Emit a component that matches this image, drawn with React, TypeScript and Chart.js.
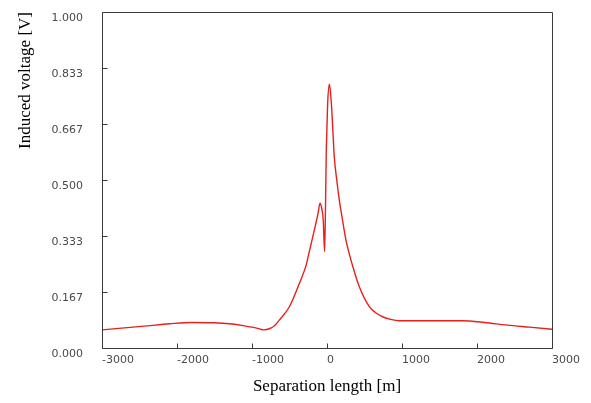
import React, { useEffect, useRef } from "react";
import { Chart, registerables } from "chart.js";

Chart.register(...registerables);

const separation = [
  -3000, -2700, -2400, -2100, -1800, -1500, -1300, -1100, -1000, -900, -850, -760, -700, -636,
  -503, -369, -280, -236, -169, -120, -93, -70, -50, -32, -20, -10, 0, 9, 31, 45, 62, 80, 97,
  130, 164, 200, 253, 297, 341, 431, 564, 650, 741, 850, 964, 1200, 1500, 1800, 2100, 2400,
  2700, 3000,
];
const voltage = [
  0.054, 0.06, 0.066, 0.072, 0.076, 0.075, 0.072, 0.066, 0.062, 0.057, 0.054, 0.058, 0.066,
  0.083, 0.122, 0.192, 0.245, 0.287, 0.351, 0.4, 0.431, 0.415, 0.38, 0.287, 0.42, 0.58, 0.66,
  0.728, 0.785, 0.765, 0.715, 0.64, 0.569, 0.5, 0.44, 0.39, 0.321, 0.28, 0.245, 0.182, 0.123,
  0.105, 0.093, 0.085, 0.081, 0.081, 0.081, 0.081, 0.076, 0.068, 0.062, 0.056,
];
const xTickValues = [-3000, -2000, -1000, 0, 1000, 2000, 3000];
const yTickValues = [0, 0.167, 0.333, 0.5, 0.667, 0.833, 1.0];

const xTitle = "Separation length [m]";
const yTitle = "Induced voltage [V]";

const framePlugin = {
  id: "frame",
  afterDatasetsDraw(chart: any) {
    const { ctx, chartArea: a, scales } = chart;
    ctx.save();
    ctx.strokeStyle = "#3a3a3a";
    ctx.lineWidth = 1;
    const l = Math.round(a.left) + 0.5;
    const r = Math.round(a.right) + 0.5;
    const t = Math.round(a.top) + 0.5;
    const b = Math.round(a.bottom) + 0.5;
    ctx.beginPath();
    ctx.rect(l, t, r - l, b - t);
    ctx.stroke();
    ctx.beginPath();
    scales.x.ticks.forEach((tk: any) => {
      const px = Math.round(scales.x.getPixelForValue(tk.value)) + 0.5;
      ctx.moveTo(px, b);
      ctx.lineTo(px, b - 5);
    });
    scales.y.ticks.forEach((tk: any) => {
      const py = Math.round(scales.y.getPixelForValue(tk.value)) + 0.5;
      ctx.moveTo(l, py);
      ctx.lineTo(l + 5, py);
    });
    ctx.stroke();
    ctx.restore();
  },
};

export default function App() {
  const ref = useRef<HTMLCanvasElement>(null);
  useEffect(() => {
    if (!ref.current) return;
    const chart = new Chart(ref.current, {
      type: "line",
      data: {
        datasets: [
          {
            data: separation.map((x, i) => ({ x, y: voltage[i] })),
            borderColor: "#e8201c",
            borderWidth: 1.4,
            pointRadius: 0,
            cubicInterpolationMode: "monotone",
            fill: false,
          },
        ],
      },
      options: {
        animation: false,
        responsive: false,
        devicePixelRatio: 1,
        layout: { padding: { left: 0, top: 12, right: 39, bottom: 0 } },
        plugins: { legend: { display: false }, tooltip: { enabled: false } },
        scales: {
          x: {
            type: "linear",
            min: -3000,
            max: 3000,
            afterBuildTicks: (s: any) => {
              s.ticks = xTickValues.map((v) => ({ value: v }));
            },
            afterFit: (s: any) => {
              s.height = 55;
              s.paddingLeft = 0;
              s.paddingRight = 0;
            },
            grid: { display: false, drawTicks: false },
            border: { display: false },
            ticks: {
              align: "start",
              padding: 6,
              maxRotation: 0,
              color: "#4a4a4a",
              font: { family: "DejaVu Sans", size: 11 },
              callback: (v: any) => String(v),
            },
            title: {
              display: true,
              text: xTitle,
              color: "#000",
              font: { family: "Liberation Serif", size: 17 },
              padding: { top: 0, bottom: 6 },
            },
          },
          y: {
            type: "linear",
            min: 0,
            max: 1,
            afterBuildTicks: (s: any) => {
              s.ticks = yTickValues.map((v) => ({ value: v }));
            },
            afterFit: (s: any) => {
              s.width = 102;
              s.paddingTop = 0;
              s.paddingBottom = 0;
            },
            grid: { display: false, drawTicks: false },
            border: { display: false },
            ticks: {
              padding: 19,
              labelOffset: 6,
              color: "#4a4a4a",
              font: { family: "DejaVu Sans", size: 11 },
              callback: (v: any) => Number(v).toFixed(3),
            },
            title: {
              display: true,
              text: yTitle,
              align: "end",
              color: "#000",
              font: { family: "Liberation Serif", size: 17 },
              padding: { top: 15, bottom: 0 },
            },
          },
        },
      },
      plugins: [framePlugin],
    } as any);
    return () => chart.destroy();
  }, []);
  return (
    <div style={{ position: "fixed", left: 0, top: 0, width: 591, height: 403, background: "#fff" }}>
      <canvas ref={ref} width={591} height={403} />
    </div>
  );
}
